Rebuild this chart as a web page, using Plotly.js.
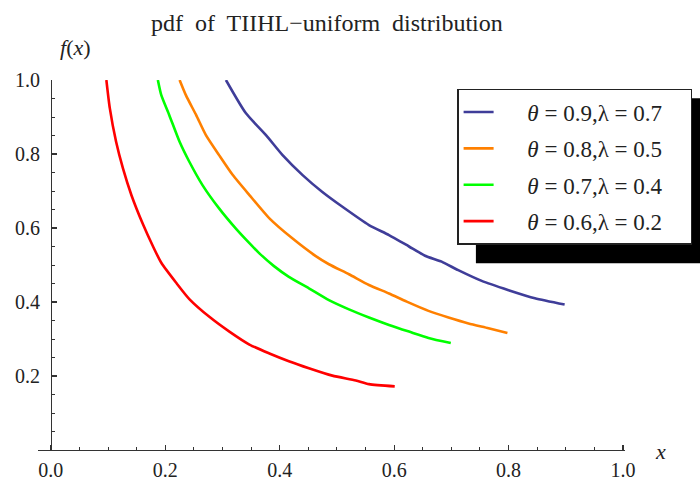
<!DOCTYPE html>
<html>
<head>
<meta charset="utf-8">
<script src="https://cdn.plot.ly/plotly-3.0.1.min.js"></script>
<style>html,body{margin:0;padding:0;background:#fff;}#chart{width:700px;height:481px;}</style>
</head>
<body>
<div id="chart"></div>
<script>
// Values
const seriesNames = ['<i>θ</i> = 0.9,λ = 0.7', '<i>θ</i> = 0.8,λ = 0.5', '<i>θ</i> = 0.7,λ = 0.4', '<i>θ</i> = 0.6,λ = 0.2'];

const blueX = [0.306,0.341,0.376,0.405,0.440,0.474,0.509,0.556,0.591,0.626,0.654,0.683,0.712,0.753,0.800,0.846,0.898];
const blueY = [1.000,0.910,0.851,0.797,0.743,0.698,0.658,0.608,0.581,0.550,0.525,0.509,0.486,0.457,0.432,0.410,0.393];

const orangeX = [0.225,0.236,0.254,0.271,0.294,0.318,0.347,0.382,0.422,0.463,0.486,0.521,0.556,0.591,0.622,0.660,0.695,0.730,0.765,0.798];
const orangeY = [1.000,0.959,0.905,0.851,0.797,0.743,0.689,0.626,0.572,0.524,0.502,0.475,0.446,0.423,0.401,0.376,0.358,0.342,0.329,0.316];

const greenX = [0.187,0.193,0.207,0.225,0.242,0.265,0.294,0.323,0.347,0.364,0.390,0.416,0.451,0.486,0.521,0.556,0.591,0.626,0.660,0.699];
const greenY = [1.000,0.959,0.905,0.833,0.779,0.716,0.653,0.599,0.559,0.532,0.497,0.468,0.437,0.405,0.380,0.358,0.338,0.320,0.303,0.289];

const redX = [0.097,0.103,0.114,0.126,0.141,0.161,0.178,0.193,0.219,0.242,0.277,0.312,0.347,0.382,0.416,0.451,0.492,0.533,0.556,0.601];
const redY = [1.000,0.924,0.833,0.761,0.688,0.610,0.552,0.506,0.452,0.408,0.360,0.320,0.285,0.261,0.240,0.221,0.201,0.188,0.178,0.172];

const xTickVals = [0.0,0.2,0.4,0.6,0.8,1.0];
const xTickText = ['0.0','0.2','0.4','0.6','0.8','1.0'];
const yTickVals = [0.2,0.4,0.6,0.8,1.0];
const yTickText = ['0.2','0.4','0.6','0.8','1.0'];

const colors = ['#3F3D99','#FF8000','#00FF00','#FF0000'];
const xs = [blueX, orangeX, greenX, redX];
const ys = [blueY, orangeY, greenY, redY];

const serif = 'Liberation Serif';
const ink = '#222';
const pad = '\u00a0\u00a0\u00a0\u00a0\u00a0';
const tailPad = '\u00a0\u00a0\u00a0\u00a0';

const traces = xs.map((x, i) => ({
  type: 'scatter', mode: 'lines', x: x, y: ys[i], name: pad + seriesNames[i] + tailPad,
  legendgroup: 'g' + i,
  line: {color: colors[i], width: 2.6, shape: 'spline', smoothing: 0.6}
}));

const tickFont = {family: serif, size: 20, color: ink};

const layout = {
  width: 700, height: 481,
  margin: {l: 38, r: 75, t: 80, b: 31, autoexpand: false},
  paper_bgcolor: '#fff', plot_bgcolor: '#fff',
  font: {family: serif, size: 20, color: ink},
  title: {text: 'pdf  of  TIIHL\u2212uniform  distribution', x: 0.467, xanchor: 'center', y: 0.954, yanchor: 'middle',
          font: {family: serif, size: 24, color: ink}},
  showlegend: true,
  legend: {xref: 'container', yref: 'container', x: 0.653, y: 0.815, xanchor: 'left', yanchor: 'top',
           bgcolor: '#fff', bordercolor: ink, borderwidth: 1.5,
           font: {family: serif, size: 23, color: ink}, tracegroupgap: 3.5, traceorder: 'grouped'},
  xaxis: {range: [-0.0225, 1.0035], automargin: false, showgrid: false, zeroline: false, showline: true, linecolor: '#333', linewidth: 1.3,
          ticks: 'inside', ticklen: 5, tickwidth: 1.2, tickcolor: '#333', tickmode: 'array', tickvals: xTickVals, ticktext: xTickText,
          tickfont: tickFont, ticklabelstandoff: 2,
          minor: {dtick: 0.05, tick0: 0, ticks: 'inside', ticklen: 3, tickwidth: 1, tickcolor: '#333', showgrid: false},
          fixedrange: true},
  yaxis: {range: [0, 1.0], anchor: 'free', position: 0.022, automargin: false, showgrid: false, zeroline: false, showline: true, linecolor: '#333', linewidth: 1.3,
          ticks: 'inside', ticklen: 5, tickwidth: 1.2, tickcolor: '#333', tickmode: 'array', tickvals: yTickVals, ticktext: yTickText,
          tickfont: tickFont, ticklabelstandoff: 7,
          minor: {dtick: 0.05, tick0: 0, ticks: 'inside', ticklen: 3, tickwidth: 1, tickcolor: '#333', showgrid: false},
          fixedrange: true},
  shapes: [{type: 'rect', xref: 'paper', yref: 'paper', x0: 0.746, x1: 1.15, y0: 0.505, y1: 0.951,
            fillcolor: '#000', line: {width: 0}, layer: 'above'}],
  annotations: [
    {text: '<i>f</i>(<i>x</i>)', xref: 'paper', yref: 'paper', x: 0.0647, y: 1.089, showarrow: false,
     xanchor: 'center', yanchor: 'middle', font: {family: serif, size: 22, color: ink}},
    {text: '<i>x</i>', xref: 'paper', yref: 'paper', x: 1.06, y: -0.005, showarrow: false,
     xanchor: 'center', yanchor: 'middle', font: {family: serif, size: 22, color: ink}}
  ]
};

Plotly.newPlot('chart', traces, layout, {displayModeBar: false, staticPlot: true});
</script>
</body>
</html>
